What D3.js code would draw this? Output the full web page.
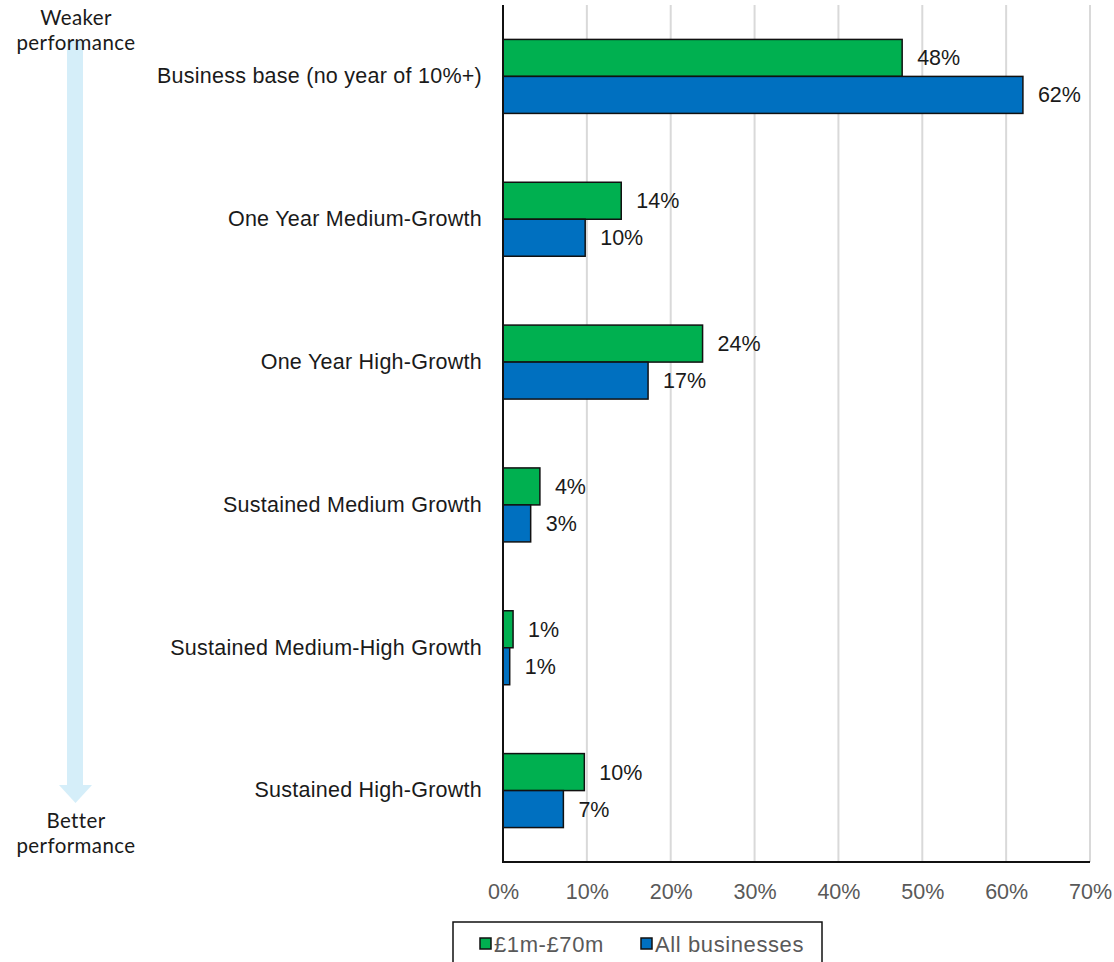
<!DOCTYPE html>
<html>
<head>
<meta charset="utf-8">
<script src="https://cdn.jsdelivr.net/npm/d3@7"></script>
<style>
  html, body { margin: 0; padding: 0; background: #fff; }
  svg { display: block; }
  text { font-family: "Liberation Sans", Arial, sans-serif; }
</style>
</head>
<body>
<svg id="chart" width="1114" height="962"></svg>
<script>
// Share of businesses by growth category
const categories = [
  "Business base (no year of 10%+)",
  "One Year Medium-Growth",
  "One Year High-Growth",
  "Sustained Medium Growth",
  "Sustained Medium-High Growth",
  "Sustained High-Growth"
];
const seriesNames = ["£1m-£70m", "All businesses"];
const midSized = [0.476, 0.141, 0.238, 0.044, 0.012, 0.097];
const allBusinesses = [0.62, 0.098, 0.173, 0.033, 0.008, 0.072];
const xTicks = [0, 0.1, 0.2, 0.3, 0.4, 0.5, 0.6, 0.7];

const colors = ["#00B050", "#0070C0"];
const series = [midSized, allBusinesses];

const svg = d3.select("#chart");
const W = 1114;
const plotLeft = 503, plotTop = 5, plotBottom = 862;
const fs = 21.5;

const x = d3.scaleLinear().domain([0, 0.7]).range([plotLeft, W - 24]);
const y = d3.scaleBand().domain(categories).range([plotTop, plotBottom]).paddingInner(0.482).paddingOuter(0.241);
const ySub = d3.scaleBand().domain(seriesNames).range([0, y.bandwidth()]);

// Vertical gridlines
svg.append("g")
  .selectAll("line")
  .data(xTicks.slice(1))
  .join("line")
  .attr("x1", d => x(d)).attr("x2", d => x(d))
  .attr("y1", plotTop).attr("y2", plotBottom)
  .attr("stroke", "#d9d9d9").attr("stroke-width", 2);

// X tick labels
const xAxis = d3.axisBottom(x).tickValues(xTicks).tickFormat(d3.format(".0%")).tickSize(0).tickPadding(22);
const gx = svg.append("g").attr("transform", `translate(0,${plotBottom})`).call(xAxis);
gx.select(".domain").remove();
gx.selectAll("text").attr("font-size", fs).attr("fill", "#595959")
  .style("font-family", '"Liberation Sans", Arial, sans-serif');

// Category labels
const yAxis = d3.axisLeft(y).tickSize(0).tickPadding(21);
const gy = svg.append("g").attr("transform", `translate(${plotLeft},0)`).call(yAxis);
gy.select(".domain").remove();
gy.selectAll("text").attr("font-size", fs).attr("fill", "#1a1a1a").attr("letter-spacing", 0.25)
  .style("font-family", '"Liberation Sans", Arial, sans-serif');

// Bars with value labels
const groups = svg.append("g")
  .selectAll("g")
  .data(categories)
  .join("g")
  .attr("transform", c => `translate(0,${y(c)})`);

seriesNames.forEach((name, si) => {
  groups.append("rect")
    .attr("x", x(0))
    .attr("y", ySub(name))
    .attr("width", (c, i) => x(series[si][i]) - x(0))
    .attr("height", ySub.bandwidth())
    .attr("fill", colors[si])
    .attr("stroke", "#111")
    .attr("stroke-width", 1.5);
  groups.append("text")
    .attr("x", (c, i) => x(series[si][i]) + 15)
    .attr("y", ySub(name) + ySub.bandwidth() / 2)
    .attr("dy", "0.35em")
    .attr("font-size", fs)
    .attr("fill", "#1a1a1a")
    .text((c, i) => d3.format(".0%")(series[si][i]));
});

// Axis lines
svg.append("line").attr("x1", x(0)).attr("x2", x(0)).attr("y1", plotTop).attr("y2", plotBottom)
  .attr("stroke", "#111").attr("stroke-width", 2);
svg.append("line").attr("x1", x(0) - 1).attr("x2", x(0.7)).attr("y1", plotBottom).attr("y2", plotBottom)
  .attr("stroke", "#111").attr("stroke-width", 2);

// Performance arrow
const arrow = svg.append("g");
arrow.append("rect").attr("x", 67).attr("y", 40).attr("width", 16).attr("height", 746).attr("fill", "#d5eef9");
arrow.append("path").attr("d", "M59,785 L92,785 L75.5,803 Z").attr("fill", "#d5eef9");
const sideFont = 'Lato, "Noto Sans", sans-serif';
[["Weaker", 25], ["performance", 50], ["Better", 828], ["performance", 853]].forEach(([t, yy]) => {
  svg.append("text").attr("x", 76).attr("y", yy).attr("text-anchor", "middle")
    .attr("font-size", 20.5).attr("letter-spacing", 0.4).attr("fill", "#1a1a1a")
    .style("font-family", sideFont).text(t);
});

// Legend
const legend = svg.append("g");
legend.append("rect").attr("x", 453).attr("y", 922).attr("width", 369).attr("height", 60)
  .attr("fill", "#fff").attr("stroke", "#111").attr("stroke-width", 1.5);
const legendX = [480, 641];
seriesNames.forEach((name, i) => {
  legend.append("rect").attr("x", legendX[i]).attr("y", 938).attr("width", 11).attr("height", 11)
    .attr("fill", colors[i]).attr("stroke", "#111").attr("stroke-width", 1.5);
  legend.append("text").attr("x", legendX[i] + 14).attr("y", 944).attr("dy", "0.35em")
    .attr("font-size", 22).attr("fill", "#595959").attr("letter-spacing", 0.6).text(name);
});
</script>
</body>
</html>
